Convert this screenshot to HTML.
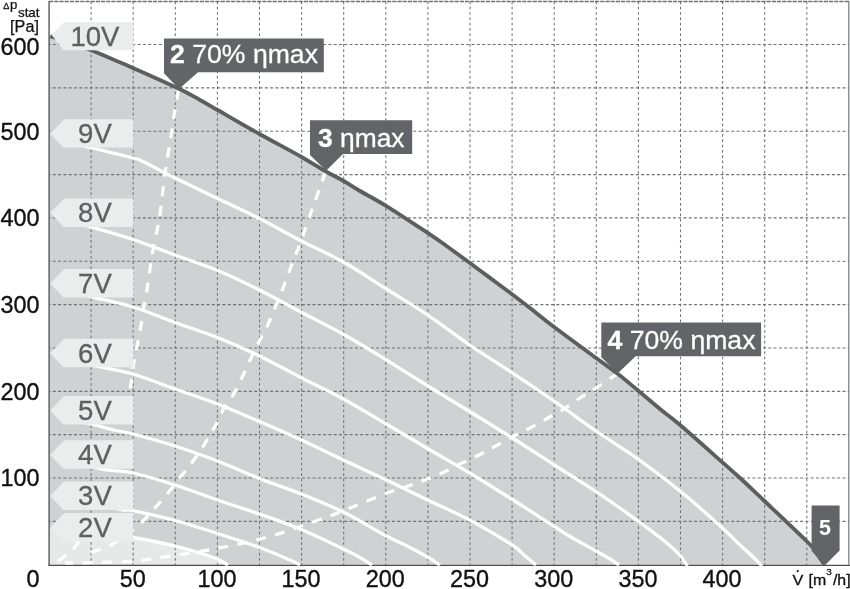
<!DOCTYPE html>
<html><head><meta charset="utf-8"><title>Chart</title>
<style>html,body{margin:0;padding:0;background:#fff;}body{width:850px;height:589px;overflow:hidden;position:relative;font-family:"Liberation Sans",sans-serif;}</style></head>
<body>
<svg width="850" height="589" viewBox="0 0 850 589" style="position:absolute;left:0;top:0;will-change:transform;font-family:'Liberation Sans',sans-serif">
<rect width="850" height="589" fill="#fff"/>
<path d="M49.0,35.6 C55.5,37.8 74.0,43.5 88.0,48.9 C102.0,54.3 117.8,61.4 133.0,68.0 C148.2,74.7 167.8,83.5 179.0,88.8 C190.2,94.1 193.6,96.5 200.0,100.0 C206.4,103.5 207.7,104.3 217.6,110.0 C227.5,115.7 245.5,126.2 259.5,134.0 C273.5,141.8 290.6,150.8 301.5,157.0 C312.4,163.2 318.0,167.0 325.0,171.0 C332.0,175.0 337.8,177.7 343.6,181.0 C349.4,184.3 353.0,186.9 360.0,191.0 C367.0,195.1 374.3,198.6 385.6,205.6 C396.9,212.6 417.4,226.1 427.7,232.9 C438.0,239.7 440.2,241.5 447.2,246.5 C454.2,251.5 462.8,257.8 469.6,262.8 C476.4,267.8 481.0,271.2 488.0,276.4 C495.0,281.6 504.7,288.7 511.7,294.0 C518.7,299.3 522.9,302.5 530.0,308.0 C537.1,313.5 543.1,318.7 554.1,327.0 C565.1,335.3 585.5,350.2 596.1,358.0 C606.8,365.8 611.0,368.6 618.0,374.0 C625.0,379.4 631.0,384.7 638.0,390.5 C645.0,396.3 653.0,403.2 660.0,409.0 C667.0,414.8 669.7,416.1 680.1,425.0 C690.5,433.9 712.7,453.7 722.5,462.4 C732.3,471.1 732.0,470.6 739.0,477.0 C746.0,483.4 753.2,490.3 764.5,501.0 C775.8,511.7 797.9,532.5 806.5,541.0 C815.1,549.5 813.0,548.0 816.0,552.0 C819.0,556.0 822.8,562.7 824.2,564.8 L49,564.7 Z" fill="#d0d1d3"/>
<path d="M49,528 L133,539 L133.0,537.5 C140.0,538.9 163.8,543.4 175.0,546.0 C186.2,548.6 192.9,550.8 200.0,553.0 C207.1,555.2 212.7,557.0 217.4,559.0 C222.1,561.0 226.2,564.0 228.0,565.0 L49,565 Z" fill="#e7e8e8"/>
<path d="M91.10,564.70 V1 M133.20,564.70 V1 M175.30,564.70 V1 M217.40,564.70 V1 M259.50,564.70 V1 M301.60,564.70 V1 M343.70,564.70 V1 M385.80,564.70 V1 M427.90,564.70 V1 M470.00,564.70 V1 M512.10,564.70 V1 M554.20,564.70 V1 M596.30,564.70 V1 M638.40,564.70 V1 M680.50,564.70 V1 M722.60,564.70 V1 M764.70,564.70 V1 M806.80,564.70 V1" stroke="#707173" stroke-width="1.05" stroke-dasharray="2.7 2.6" stroke-dashoffset="1.35" fill="none"/>
<path d="M49,521.35 H849 M49,478.00 H849 M49,434.65 H849 M49,391.30 H849 M49,347.95 H849 M49,304.60 H849 M49,261.25 H849 M49,217.90 H849 M49,174.55 H849 M49,131.20 H849 M49,87.85 H849 M49,44.50 H849" stroke="#707173" stroke-width="1.15" stroke-dasharray="3 2.3" stroke-dashoffset="1.5" fill="none"/>
<path d="M49,1.5 H849.4" stroke="#6e6f71" stroke-width="1.4" stroke-dasharray="4.2 1" fill="none"/>
<path d="M848.8,1 V564.7" stroke="#77787a" stroke-width="1.2" fill="none"/>
<path d="M49.1,1 V565.2" stroke="#626365" stroke-width="1.5" fill="none"/>
<path d="M48.4,565.3 H850" stroke="#4a4b4d" stroke-width="1.3" fill="none"/>
<path d="M80.0,145.0 C82.2,145.5 84.2,145.8 93.0,148.0 C101.8,150.2 124.8,155.8 133.0,158.0 C141.2,160.2 135.0,157.7 142.0,161.0 C149.0,164.3 162.4,171.8 175.0,178.0 C187.6,184.2 203.5,191.8 217.6,198.5 C231.7,205.2 245.4,211.4 259.4,218.5 C273.4,225.6 287.4,233.8 301.4,241.0 C315.4,248.2 329.4,254.1 343.4,262.0 C357.4,269.9 371.6,279.7 385.6,288.5 C399.6,297.3 413.6,305.6 427.6,315.0 C441.6,324.4 455.6,335.4 469.6,345.0 C483.6,354.6 497.5,363.0 511.6,372.3 C525.7,381.6 539.9,391.2 554.0,401.0 C568.1,410.8 582.0,421.3 596.0,431.0 C610.0,440.7 624.0,449.0 638.0,459.0 C652.0,469.0 669.7,482.8 680.0,491.0 C690.3,499.2 692.9,501.8 700.0,508.0 C707.1,514.2 715.7,521.8 722.4,528.0 C729.1,534.2 735.1,540.3 740.0,545.0 C744.9,549.7 748.3,552.5 752.0,556.0 C755.7,559.5 760.3,564.3 762.0,566.0" stroke="#fff" stroke-width="3.3" fill="none"/>
<path d="M80.0,224.5 C82.2,225.0 84.2,225.0 93.0,227.5 C101.8,230.0 119.3,234.9 133.0,239.5 C146.7,244.1 160.9,249.8 175.0,255.0 C189.1,260.2 203.5,264.7 217.6,270.5 C231.7,276.3 245.5,283.0 259.5,290.0 C273.5,297.0 287.7,305.1 301.8,312.5 C315.8,319.9 329.8,326.7 343.8,334.5 C357.7,342.3 371.6,350.9 385.6,359.5 C399.6,368.1 414.0,377.3 428.0,386.0 C442.0,394.7 455.7,402.9 469.6,411.5 C483.5,420.1 497.6,428.7 511.6,437.5 C525.6,446.3 539.5,455.5 553.6,464.5 C567.7,473.5 581.9,482.1 596.0,491.5 C610.1,500.9 627.3,513.3 638.0,521.0 C648.7,528.7 654.3,533.1 660.0,537.5 C665.7,541.9 668.6,544.4 672.0,547.5 C675.4,550.6 677.9,552.9 680.5,556.0 C683.1,559.1 686.3,564.3 687.5,566.0" stroke="#fff" stroke-width="3.3" fill="none"/>
<path d="M80.0,294.5 C82.2,295.0 84.2,295.3 93.0,297.4 C101.8,299.5 119.3,302.8 133.0,307.0 C146.7,311.2 160.9,317.4 175.0,322.5 C189.1,327.6 203.4,331.9 217.5,337.5 C231.6,343.1 245.5,349.2 259.5,356.0 C273.5,362.8 287.8,370.8 301.8,378.0 C315.7,385.2 329.5,391.4 343.4,399.0 C357.3,406.6 371.4,415.2 385.4,423.5 C399.4,431.8 413.6,440.2 427.6,448.5 C441.6,456.8 455.6,464.6 469.6,473.0 C483.6,481.4 497.6,490.2 511.6,499.0 C525.6,507.8 543.9,519.8 553.6,526.0 C563.3,532.2 562.9,532.3 570.0,536.5 C577.1,540.7 589.3,547.2 596.0,551.0 C602.7,554.8 606.2,556.7 610.0,559.0 C613.8,561.3 617.5,564.0 619.0,565.0" stroke="#fff" stroke-width="3.3" fill="none"/>
<path d="M90.0,365.0 C91.7,365.3 92.8,365.5 100.0,367.0 C107.2,368.5 120.5,370.3 133.0,374.0 C145.5,377.7 160.9,384.0 175.0,389.0 C189.1,394.0 203.3,398.6 217.4,404.0 C231.5,409.4 245.4,415.5 259.4,421.5 C273.4,427.5 287.4,433.6 301.4,440.0 C315.4,446.4 329.4,453.4 343.4,460.0 C357.4,466.6 371.4,472.8 385.4,479.5 C399.4,486.2 413.6,493.2 427.6,500.0 C441.6,506.8 455.6,512.6 469.6,520.0 C483.6,527.4 502.5,538.7 511.6,544.5 C520.7,550.3 519.9,551.6 524.0,555.0 C528.1,558.4 534.0,563.3 536.0,565.0" stroke="#fff" stroke-width="3.3" fill="none"/>
<path d="M80.0,421.5 C82.2,422.0 87.3,423.0 93.0,424.4 C98.7,425.8 107.3,428.4 114.0,430.0 C120.7,431.6 122.8,431.3 133.0,434.0 C143.2,436.7 160.9,441.5 175.0,446.0 C189.1,450.5 203.3,455.6 217.4,461.0 C231.5,466.4 245.4,473.0 259.4,478.5 C273.4,484.0 287.3,488.4 301.3,494.0 C315.3,499.6 329.4,505.1 343.4,512.0 C357.4,518.9 374.3,529.6 385.4,535.5 C396.5,541.4 403.0,543.9 410.0,547.5 C417.0,551.1 422.6,554.1 427.6,557.0 C432.6,559.9 437.9,563.7 440.0,565.0" stroke="#fff" stroke-width="3.3" fill="none"/>
<path d="M95.0,467.5 C97.2,467.9 101.7,469.1 108.0,470.0 C114.3,470.9 121.8,470.5 133.0,473.0 C144.2,475.5 160.9,480.5 175.0,485.0 C189.1,489.5 203.3,495.2 217.4,500.0 C231.5,504.8 245.4,509.1 259.4,514.0 C273.4,518.9 287.3,523.7 301.3,529.5 C315.3,535.3 333.6,544.3 343.4,549.0 C353.2,553.7 355.2,554.8 360.0,557.5 C364.8,560.2 370.0,563.8 372.0,565.0" stroke="#fff" stroke-width="3.3" fill="none"/>
<path d="M114.0,508.5 C115.7,508.8 120.8,509.6 124.0,510.0 C127.2,510.4 124.5,508.9 133.0,510.7 C141.5,512.5 160.9,516.7 175.0,520.5 C189.1,524.3 203.3,529.0 217.4,533.5 C231.5,538.0 247.3,543.1 259.4,547.5 C271.5,551.9 283.2,557.1 290.0,560.0 C296.8,562.9 298.3,564.2 300.0,565.0" stroke="#fff" stroke-width="3.3" fill="none"/>
<path d="M100.0,534.0 C105.5,534.6 120.5,535.5 133.0,537.5 C145.5,539.5 163.8,543.4 175.0,546.0 C186.2,548.6 192.9,550.8 200.0,553.0 C207.1,555.2 212.7,557.0 217.4,559.0 C222.1,561.0 226.2,564.0 228.0,565.0" stroke="#fff" stroke-width="3.3" fill="none"/>
<path d="M178.5,90.0 C177.8,94.3 175.1,109.3 174.0,116.0 C172.9,122.7 173.5,120.3 172.0,130.0 C170.5,139.7 167.1,159.3 165.0,174.0 C162.9,188.7 161.4,205.3 159.4,218.0 C157.4,230.7 154.7,240.3 153.0,250.0 C151.3,259.7 150.2,268.3 149.0,276.0 C147.8,283.7 147.0,290.2 146.0,296.0 C145.0,301.8 144.0,305.0 143.0,311.0 C142.0,317.0 141.2,325.3 140.0,332.0 C138.8,338.7 137.2,345.0 136.0,351.0 C134.8,357.0 134.0,361.7 133.0,368.0 C132.0,374.3 131.8,380.3 130.0,389.0 C128.2,397.7 123.3,414.8 122.0,420.0" stroke="#fff" stroke-width="3.2" stroke-dasharray="10 9.5" fill="none"/>
<path d="M90.0,525.0 C87.5,528.7 79.2,541.8 75.0,547.0 C70.8,552.2 68.3,553.3 65.0,556.0 C61.7,558.7 56.7,561.8 55.0,563.0" stroke="#fff" stroke-width="3.2" stroke-dasharray="10 9.5" fill="none"/>
<path d="M325.5,172.0 C322.8,179.7 313.1,206.5 309.0,218.0 C304.9,229.5 303.7,233.8 301.0,241.0 C298.3,248.2 296.0,253.6 293.0,261.4 C290.0,269.2 286.8,278.2 283.0,288.0 C279.2,297.8 273.8,311.3 270.0,320.0 C266.2,328.7 263.3,333.3 260.0,340.0 C256.7,346.7 253.0,353.8 250.0,360.0 C247.0,366.2 244.8,371.7 242.0,377.5 C239.2,383.3 236.0,389.9 233.0,395.0 C230.0,400.1 226.6,403.5 224.0,408.0 C221.4,412.5 220.7,415.8 217.4,422.0 C214.1,428.2 208.1,438.5 204.0,445.0 C199.9,451.5 196.7,456.0 193.0,461.0 C189.3,466.0 186.2,469.7 182.0,475.0 C177.8,480.3 172.7,487.3 168.0,493.0 C163.3,498.7 158.3,504.2 154.0,509.0 C149.7,513.8 146.3,517.8 142.0,522.0 C137.7,526.2 133.3,530.1 128.0,534.0 C122.7,537.9 116.3,542.3 110.0,545.5 C103.7,548.7 93.3,551.8 90.0,553.0" stroke="#fff" stroke-width="3.2" stroke-dasharray="10 9.5" fill="none"/>
<path d="M618.0,373.5 C614.3,375.9 602.3,383.9 596.0,388.0 C589.7,392.1 585.3,394.5 580.0,398.0 C574.7,401.5 569.3,405.7 564.0,409.0 C558.7,412.3 553.7,414.8 548.0,418.0 C542.3,421.2 536.1,424.8 530.0,428.0 C523.9,431.2 517.6,433.8 511.6,437.0 C505.6,440.2 499.8,443.8 494.0,447.0 C488.2,450.2 483.0,453.0 477.0,456.0 C471.0,459.0 464.2,462.0 458.0,465.0 C451.8,468.0 446.0,471.3 440.0,474.0 C434.0,476.7 428.7,478.5 422.0,481.0 C415.3,483.5 406.0,486.9 400.0,489.0 C394.0,491.1 395.1,489.9 385.8,493.5 C376.4,497.1 354.7,506.2 343.8,510.5 C332.8,514.8 331.0,515.6 320.0,519.5 C309.0,523.4 289.3,530.4 278.0,534.0 C266.7,537.6 259.3,539.2 252.0,541.0 C244.7,542.8 240.3,543.7 234.0,545.0 C227.7,546.3 223.3,547.3 214.0,549.0 C204.7,550.7 187.7,553.5 178.0,555.0 C168.3,556.5 163.0,557.0 156.0,558.0 C149.0,559.0 145.3,560.2 136.0,561.0 C126.7,561.8 111.8,562.2 100.0,562.5 C88.2,562.8 70.8,562.9 65.0,563.0" stroke="#fff" stroke-width="3.2" stroke-dasharray="10 9.5" fill="none"/>
<path d="M50.3,36.1 C56.6,38.2 74.2,43.6 88.0,48.9 C101.8,54.2 117.8,61.4 133.0,68.0 C148.2,74.7 167.8,83.5 179.0,88.8 C190.2,94.1 193.6,96.5 200.0,100.0 C206.4,103.5 207.7,104.3 217.6,110.0 C227.5,115.7 245.5,126.2 259.5,134.0 C273.5,141.8 290.6,150.8 301.5,157.0 C312.4,163.2 318.0,167.0 325.0,171.0 C332.0,175.0 337.8,177.7 343.6,181.0 C349.4,184.3 353.0,186.9 360.0,191.0 C367.0,195.1 374.3,198.6 385.6,205.6 C396.9,212.6 417.4,226.1 427.7,232.9 C438.0,239.7 440.2,241.5 447.2,246.5 C454.2,251.5 462.8,257.8 469.6,262.8 C476.4,267.8 481.0,271.2 488.0,276.4 C495.0,281.6 504.7,288.7 511.7,294.0 C518.7,299.3 522.9,302.5 530.0,308.0 C537.1,313.5 543.1,318.7 554.1,327.0 C565.1,335.3 585.5,350.2 596.1,358.0 C606.8,365.8 611.0,368.6 618.0,374.0 C625.0,379.4 631.0,384.7 638.0,390.5 C645.0,396.3 653.0,403.2 660.0,409.0 C667.0,414.8 669.7,416.1 680.1,425.0 C690.5,433.9 712.7,453.7 722.5,462.4 C732.3,471.1 732.0,470.6 739.0,477.0 C746.0,483.4 753.2,490.3 764.5,501.0 C775.8,511.7 797.9,532.5 806.5,541.0 C815.1,549.5 813.0,548.0 816.0,552.0 C819.0,556.0 822.8,562.7 824.2,564.8" stroke="#5d5e60" stroke-width="3.8" fill="none"/>
<path d="M51.5,34.7 L64.2,21.9 H133.5 V50.3 H63.4 Z" fill="#ebecec"/>
<text transform="translate(94.9,45.7) scale(1.02,1)" font-size="27" fill="#5e5f61" stroke="#5e5f61" stroke-width="0.3" text-anchor="middle">10V</text>
<path d="M50.2,133.7 L64.2,119.2 H133.5 V147.6 H63.4 Z" fill="#ebecec"/>
<text transform="translate(94.9,143.0) scale(1.02,1)" font-size="27" fill="#5e5f61" stroke="#5e5f61" stroke-width="0.3" text-anchor="middle">9V</text>
<path d="M50.2,213.1 L64.2,198.6 H133.5 V227.0 H63.4 Z" fill="#ebecec"/>
<text transform="translate(94.9,222.4) scale(1.02,1)" font-size="27" fill="#5e5f61" stroke="#5e5f61" stroke-width="0.3" text-anchor="middle">8V</text>
<path d="M50.2,283.5 L64.2,269.0 H133.5 V297.4 H63.4 Z" fill="#ebecec"/>
<text transform="translate(94.9,292.8) scale(1.02,1)" font-size="27" fill="#5e5f61" stroke="#5e5f61" stroke-width="0.3" text-anchor="middle">7V</text>
<path d="M50.2,353.3 L64.2,338.8 H133.5 V367.2 H63.4 Z" fill="#ebecec"/>
<text transform="translate(94.9,362.6) scale(1.02,1)" font-size="27" fill="#5e5f61" stroke="#5e5f61" stroke-width="0.3" text-anchor="middle">6V</text>
<path d="M50.2,410.5 L64.2,396.0 H133.5 V424.4 H63.4 Z" fill="#ebecec"/>
<text transform="translate(94.9,419.8) scale(1.02,1)" font-size="27" fill="#5e5f61" stroke="#5e5f61" stroke-width="0.3" text-anchor="middle">5V</text>
<path d="M50.2,454.8 L64.2,440.3 H133.5 V468.7 H63.4 Z" fill="#ebecec"/>
<text transform="translate(94.9,464.1) scale(1.02,1)" font-size="27" fill="#5e5f61" stroke="#5e5f61" stroke-width="0.3" text-anchor="middle">4V</text>
<path d="M50.2,496.1 L64.2,481.6 H133.5 V510.0 H63.4 Z" fill="#ebecec"/>
<text transform="translate(94.9,505.4) scale(1.02,1)" font-size="27" fill="#5e5f61" stroke="#5e5f61" stroke-width="0.3" text-anchor="middle">3V</text>
<path d="M50.2,527.5 L64.2,513.0 H133.5 V541.4 H63.4 Z" fill="#ebecec"/>
<text transform="translate(94.9,536.8) scale(1.02,1)" font-size="27" fill="#5e5f61" stroke="#5e5f61" stroke-width="0.3" text-anchor="middle">2V</text>
<path d="M164.0,38.6 H323.8 V72.2 H198.0 L179.0,89.0 L164.0,73.2 Z" fill="#636467"/>
<text x="170.0" y="63.0" font-size="26" fill="#fff" stroke="#fff" stroke-width="0.3" textLength="148.0" lengthAdjust="spacingAndGlyphs"><tspan font-weight="bold">2</tspan> 70% ηmax</text>
<path d="M310.0,120.2 H412.2 V154.0 H343.0 L326.1,170.7 L310.0,155.0 Z" fill="#636467"/>
<text x="318.0" y="146.7" font-size="26" fill="#fff" stroke="#fff" stroke-width="0.3" textLength="86.5" lengthAdjust="spacingAndGlyphs"><tspan font-weight="bold">3</tspan> ηmax</text>
<path d="M601.3,322.5 H761.1 V356.2 H635.7 L617.8,373.3 L601.3,357.2 Z" fill="#636467"/>
<text x="607.5" y="348.5" font-size="26" fill="#fff" stroke="#fff" stroke-width="0.3" textLength="148.0" lengthAdjust="spacingAndGlyphs"><tspan font-weight="bold">4</tspan> 70% ηmax</text>
<path d="M811.6,505.5 H839.6 V550.5 L824.6,565.5 L811.6,551 Z" fill="#636467"/>
<text x="825" y="535.2" font-size="21.5" font-weight="bold" fill="#fff" text-anchor="middle">5</text>
<text transform="translate(39.4,55.2) scale(0.99,1)" font-size="23.6" fill="#111" stroke="#111" stroke-width="0.35" text-anchor="end">600</text>
<text transform="translate(39.4,139.6) scale(0.99,1)" font-size="23.6" fill="#111" stroke="#111" stroke-width="0.35" text-anchor="end">500</text>
<text transform="translate(39.4,226.3) scale(0.99,1)" font-size="23.6" fill="#111" stroke="#111" stroke-width="0.35" text-anchor="end">400</text>
<text transform="translate(39.4,313.0) scale(0.99,1)" font-size="23.6" fill="#111" stroke="#111" stroke-width="0.35" text-anchor="end">300</text>
<text transform="translate(39.4,399.7) scale(0.99,1)" font-size="23.6" fill="#111" stroke="#111" stroke-width="0.35" text-anchor="end">200</text>
<text transform="translate(39.4,486.4) scale(0.99,1)" font-size="23.6" fill="#111" stroke="#111" stroke-width="0.35" text-anchor="end">100</text>
<text transform="translate(39.4,587.3) scale(0.99,1)" font-size="23.6" fill="#111" stroke="#111" stroke-width="0.35" text-anchor="end">0</text>
<text transform="translate(132.7,587.3) scale(0.99,1)" font-size="23.6" fill="#111" stroke="#111" stroke-width="0.35" text-anchor="middle">50</text>
<text transform="translate(216.9,587.3) scale(0.99,1)" font-size="23.6" fill="#111" stroke="#111" stroke-width="0.35" text-anchor="middle">100</text>
<text transform="translate(301.1,587.3) scale(0.99,1)" font-size="23.6" fill="#111" stroke="#111" stroke-width="0.35" text-anchor="middle">150</text>
<text transform="translate(385.3,587.3) scale(0.99,1)" font-size="23.6" fill="#111" stroke="#111" stroke-width="0.35" text-anchor="middle">200</text>
<text transform="translate(469.5,587.3) scale(0.99,1)" font-size="23.6" fill="#111" stroke="#111" stroke-width="0.35" text-anchor="middle">250</text>
<text transform="translate(553.7,587.3) scale(0.99,1)" font-size="23.6" fill="#111" stroke="#111" stroke-width="0.35" text-anchor="middle">300</text>
<text transform="translate(637.9,587.3) scale(0.99,1)" font-size="23.6" fill="#111" stroke="#111" stroke-width="0.35" text-anchor="middle">350</text>
<text transform="translate(722.1,587.3) scale(0.99,1)" font-size="23.6" fill="#111" stroke="#111" stroke-width="0.35" text-anchor="middle">400</text>
<text transform="translate(3.3,9.1) scale(1.08,1)" font-size="8.4" fill="#111" stroke="#111" stroke-width="0.25">Δ</text>
<text transform="translate(9.9,9.1) scale(1.1,1)" font-size="12" fill="#111" stroke="#111" stroke-width="0.25">p</text>
<text x="18" y="17.2" font-size="13" fill="#111" stroke="#111" stroke-width="0.25" textLength="21.5" lengthAdjust="spacingAndGlyphs">stat</text>
<text x="10.1" y="31.5" font-size="15.8" fill="#111" stroke="#111" stroke-width="0.25" textLength="28.8" lengthAdjust="spacingAndGlyphs">[Pa]</text>
<text transform="translate(792.6,584.6) scale(1.08,1)" font-size="15" fill="#111" stroke="#111" stroke-width="0.3">V</text>
<circle cx="797.7" cy="571.1" r="1.05" fill="#111"/>
<text transform="translate(808.6,584.6) scale(1.06,1)" font-size="15" fill="#111" stroke="#111" stroke-width="0.3">[m</text>
<text transform="translate(826.3,575.0) scale(1.08,1)" font-size="9.3" fill="#111" stroke="#111" stroke-width="0.25">3</text>
<text transform="translate(832.9,584.6) scale(1.06,1)" font-size="15" fill="#111" stroke="#111" stroke-width="0.3">/h]</text>
</svg>
</body></html>
